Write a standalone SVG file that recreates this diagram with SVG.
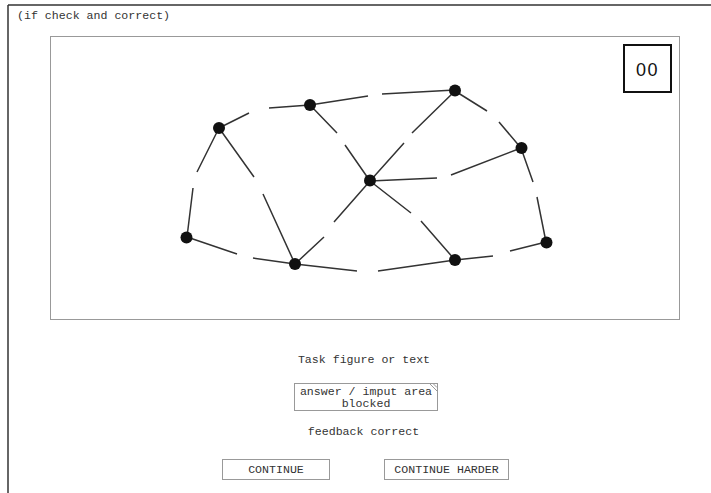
<svg xmlns="http://www.w3.org/2000/svg" width="711" height="493" viewBox="0 0 711 493">
<style>
.mono{font-family:"Liberation Mono","Courier New",monospace;font-size:11.6px;fill:#333}
.edge{stroke:#333;stroke-width:1.5;fill:none;stroke-linecap:butt}
.node{fill:#111}
.btn{fill:#fff;stroke:#999;stroke-width:1}
</style>
<rect width="711" height="493" fill="#fff"/>
<g id="frame">
<line x1="8" y1="5" x2="711" y2="5" stroke="#333" stroke-width="1.5"/>
<line x1="8" y1="5" x2="8" y2="493" stroke="#333" stroke-width="1.5"/>
<text class="mono" x="17" y="19">(if check and correct)</text>
</g>
<g id="canvas">
<rect x="50.5" y="36.5" width="629" height="283" fill="#fff" stroke="#999" stroke-width="1"/>
</g>
<g id="timer">
<rect x="624" y="45" width="47" height="47" fill="#fff" stroke="#111" stroke-width="2"/>
<text x="647.5" y="76" text-anchor="middle" font-family="Liberation Sans, Arial, sans-serif" font-size="18" fill="#111" letter-spacing="1.5">00</text>
</g>
<g id="connectors" class="edge">
<path d="M219,128L249,113M269,108L310,105"/>
<path d="M310,105L368,96M382,94L455,90"/>
<path d="M219,128L197,172M193,188L187,237"/>
<path d="M219,128L254,177M263,194L295,264"/>
<path d="M310,105L337,133M345,145L370,181"/>
<path d="M455,91L412,133M404,143L370,181"/>
<path d="M455,91L487,111M499,122L521,148"/>
<path d="M370,181L437,178M451,175L521,148"/>
<path d="M521,148L533,182M537,197L546,242"/>
<path d="M187,237L237,254M253,258L295,264"/>
<path d="M295,264L324,237M334,222L370,181"/>
<path d="M295,264L357,271M378,271L455,260"/>
<path d="M370,181L411,213M421,221L455,260"/>
<path d="M455,260L493,256M510,251L546,242"/>
</g>
<g id="nA"><circle class="node" cx="219" cy="128" r="6"/></g>
<g id="nB"><circle class="node" cx="310" cy="105" r="6"/></g>
<g id="nC"><circle class="node" cx="455" cy="90.5" r="6"/></g>
<g id="nD"><circle class="node" cx="521.5" cy="148" r="6"/></g>
<g id="nE"><circle class="node" cx="370" cy="180.5" r="6"/></g>
<g id="nF"><circle class="node" cx="186.5" cy="237.5" r="6"/></g>
<g id="nG"><circle class="node" cx="295" cy="264" r="6"/></g>
<g id="nH"><circle class="node" cx="455" cy="260" r="6"/></g>
<g id="nI"><circle class="node" cx="546.5" cy="242.5" r="6"/></g>
<g id="task">
<text class="mono" x="364" y="363" text-anchor="middle">Task figure or text</text>
</g>
<g id="answer">
<rect x="294.5" y="383.5" width="143" height="27" fill="#fff" stroke="#999" stroke-width="1"/>
<line x1="430" y1="384" x2="437" y2="391" stroke="#999" stroke-width="1"/>
<line x1="433.5" y1="384" x2="437" y2="387.5" stroke="#999" stroke-width="1"/>
<text class="mono" x="366" y="394.5" text-anchor="middle">answer / imput area</text>
<text class="mono" x="366" y="407" text-anchor="middle">blocked</text>
</g>
<g id="feedback">
<text class="mono" x="363.5" y="434.5" text-anchor="middle">feedback correct</text>
</g>
<g id="btnContinue">
<rect class="btn" x="222.5" y="459.5" width="107" height="20"/>
<text class="mono" x="276" y="472.5" text-anchor="middle">CONTINUE</text>
</g>
<g id="btnHarder">
<rect class="btn" x="384.5" y="459.5" width="124" height="20"/>
<text class="mono" x="446.5" y="472.5" text-anchor="middle">CONTINUE HARDER</text>
</g>
</svg>
